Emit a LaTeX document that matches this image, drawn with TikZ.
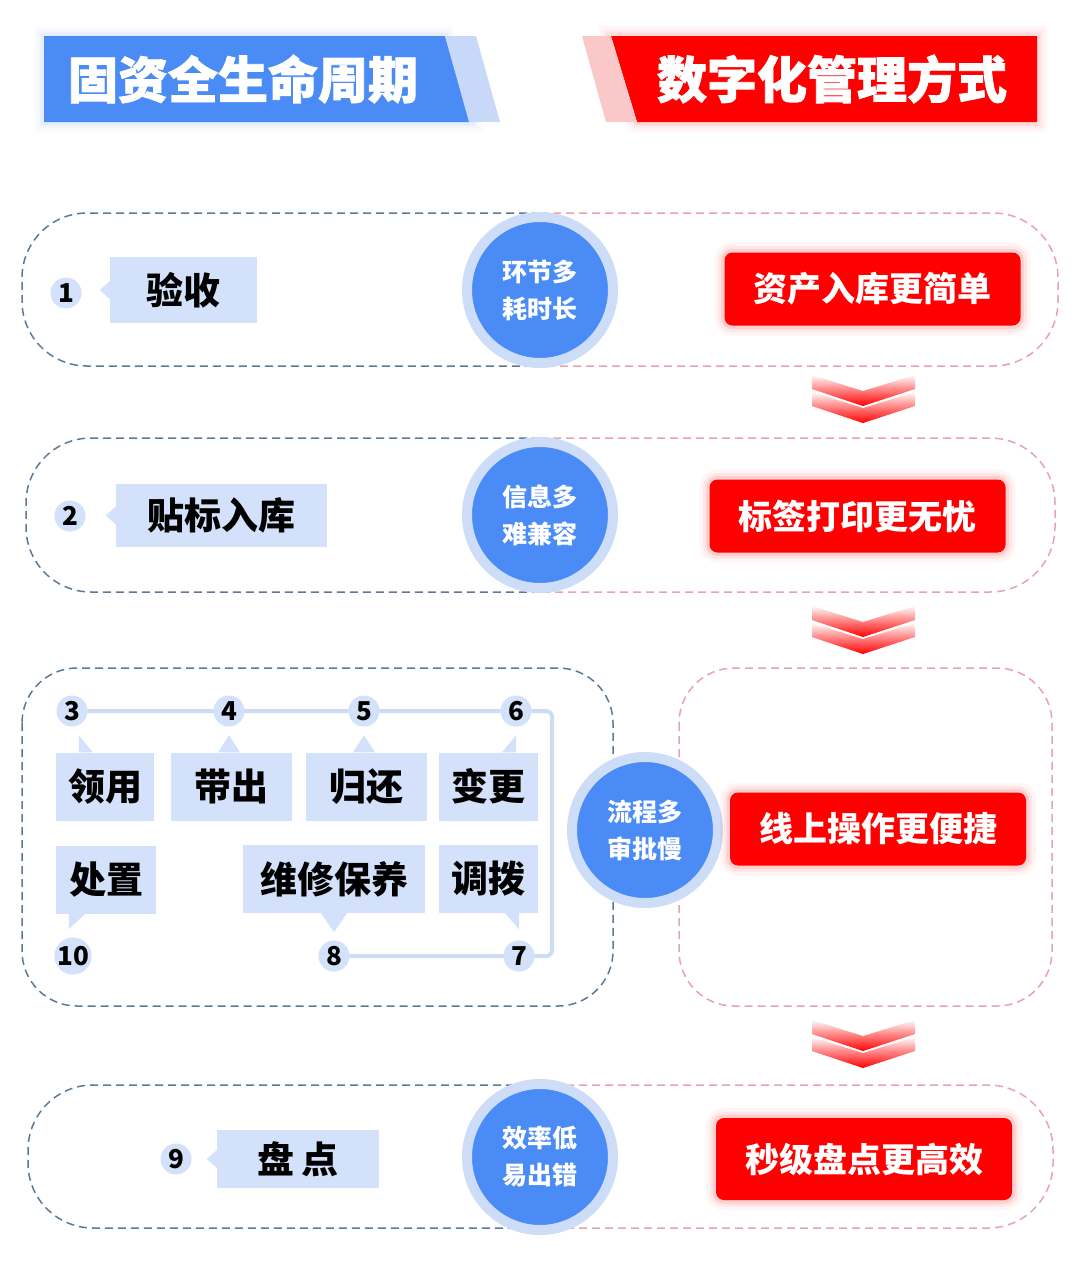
\documentclass[tikz,border=0pt]{standalone}
\usepackage{fontspec}
\setmainfont{Noto Sans CJK SC}
\newfontfamily\heavyfont{Noto Sans CJK SC}[BoldFeatures={FakeBold=1.6}]
\usepackage{tikz}
\usetikzlibrary{arrows.meta, positioning, calc, backgrounds}

\definecolor{headblue}{RGB}{74,139,245}
\definecolor{paleblue}{RGB}{199,216,248}
\definecolor{tagblue}{RGB}{211,226,250}
\definecolor{ringblue}{RGB}{205,221,247}
\definecolor{dashblue}{RGB}{92,122,152}
\definecolor{dashpink}{RGB}{232,163,172}
\definecolor{palepink}{RGB}{250,200,200}
\definecolor{trackblue}{RGB}{204,220,245}
\newcommand{\fs}[1]{\fontsize{#1}{#1}\selectfont}

\tikzset{
  phase/.style={line width=1.5pt, dash pattern=on 8pt off 5pt},
  glow/.style={preaction={draw=#1, line width=20pt, opacity=0.04},
      preaction={draw=#1, line width=13pt, opacity=0.06},
      preaction={draw=#1, line width=7pt, opacity=0.10}},
  hot/.style={fill=red, rounded corners=8pt, text=white, inner sep=0pt,
      minimum width=296pt, minimum height=73pt, font=\bfseries\fs{34}, glow=red},
  pain/.style={circle, fill=headblue, draw=ringblue, line width=10pt,
      minimum size=146pt, inner sep=0pt, text=white, align=center,
      font=\bfseries\fontsize{25}{37}\selectfont},
  numdot/.style={circle, fill=tagblue, minimum size=31pt, inner sep=0pt,
      font=\bfseries\fs{26}},
  tag/.style={fill=tagblue, inner sep=0pt, minimum height=68pt,
      font=\bfseries\fs{37}},
  track/.style={draw=trackblue, line width=4pt, rounded corners=6pt}
}

\begin{document}
\begin{tikzpicture}[x=1pt, y=-1pt]
  \useasboundingbox (0,0) rectangle (1080,1262);
  \begin{scope}[on background layer]
    \fill[white] (0,0) rectangle (1080,1262);
  \end{scope}

  % headers
  \fill[headblue, glow=headblue!70] (44,36) -- (445,36) -- (470,122) -- (44,122) -- cycle;
  \fill[paleblue] (445,36) -- (476,36) -- (500,122) -- (469,122) -- cycle;
  \node[text=white, font=\heavyfont\bfseries\fs{50}] (lifecycle) at (243,79) {固资全生命周期};
  \fill[red, glow=red!70] (611,36) -- (1037,36) -- (1037,122) -- (637,122) -- cycle;
  \fill[palepink] (582,36) -- (611,36) -- (637,122) -- (606,122) -- cycle;
  \node[text=white, font=\heavyfont\bfseries\fs{50}] (digital) at (832,79) {数字化管理方式};

  % dashed frames
  \draw[phase, dashblue, rounded corners=65pt] (540,213) -- (22,213) -- (22,366) -- (540,366);
  \draw[phase, dashpink, rounded corners=65pt] (540,213) -- (1058,213) -- (1058,366) -- (540,366);
  \draw[phase, dashblue, rounded corners=65pt] (540,438) -- (26,438) -- (26,592) -- (540,592);
  \draw[phase, dashpink, rounded corners=65pt] (540,438) -- (1055,438) -- (1055,592) -- (540,592);
  \draw[phase, dashblue, rounded corners=55pt] (22,668) rectangle (613,1006);
  \draw[phase, dashpink, rounded corners=55pt] (679,668) rectangle (1052,1006);
  \draw[phase, dashblue, rounded corners=65pt] (540,1085) -- (28,1085) -- (28,1228) -- (540,1228);
  \draw[phase, dashpink, rounded corners=65pt] (540,1085) -- (1053,1085) -- (1053,1228) -- (540,1228);

  % chevrons
  \foreach \cy in {375,606,1020} {
    \foreach \dy in {0,17} {
      \shade[top color=red!2, bottom color=red]
        (812,\cy+\dy) -- (863,\cy+\dy+16) -- (915,\cy+\dy) -- (915,\cy+\dy+14)
        -- (863,\cy+\dy+31) -- (812,\cy+\dy+14) -- cycle;
    }
  }

  % row 1
  \node[numdot] (n1) at (66,293) {1};
  \node[tag, minimum width=147pt, minimum height=66pt] (lab1) at (183.5,290) {验收};
  \fill[tagblue] (lab1.west) ++(0,-9) -- ++(-10,9) -- ++(10,9) -- cycle;
  \node[pain] (c1) at (540,290) {环节多\\耗时长};
  \node[hot] (win1) at (872.5,289) {资产入库更简单};

  % row 2
  \node[numdot] (n2) at (70,516) {2};
  \node[tag, minimum width=211pt, minimum height=63pt] (lab2) at (221.5,515.5) {贴标入库};
  \fill[tagblue] (lab2.west) ++(0,-9) -- ++(-10,9) -- ++(10,9) -- cycle;
  \node[pain] (c2) at (540,515) {信息多\\难兼容};
  \node[hot] (win2) at (857.5,516) {标签打印更无忧};

  % row 3: numbered steps
  \node[numdot] (n3) at (72,711) {3};
  \node[numdot] (n4) at (229,711) {4};
  \node[numdot] (n5) at (364,711) {5};
  \node[numdot] (n6) at (516,711) {6};
  \node[numdot] (n7) at (519,956) {7};
  \node[numdot] (n8) at (334,956) {8};
  \node[numdot] (n10) at (73,956) {10};
  \begin{scope}[on background layer]
    \draw[track] (n3.center) -- (n6.center) -- ++(36,0) |- (n8.center);
  \end{scope}

  \node[tag, minimum width=98pt] (t3) at (105,786.5) {领用};
  \node[tag, minimum width=121pt] (t4) at (231,786.5) {带出};
  \node[tag, minimum width=121pt] (t5) at (366.5,786.5) {归还};
  \node[tag, minimum width=99pt] (t6) at (488.5,786.5) {变更};
  \node[tag, minimum width=100pt] (t10) at (106,880) {处置};
  \node[tag, minimum width=182pt] (t8) at (334,879) {维修保养};
  \node[tag, minimum width=99pt] (t7) at (488.5,879) {调拨};
  \fill[tagblue] (t3.north west) ++(23,0) -- ++(0,-17) -- ++(14,17) -- cycle;
  \fill[tagblue] (n4 |- t4.north) ++(-11,0) -- ++(11,-17) -- ++(11,17) -- cycle;
  \fill[tagblue] (n5 |- t5.north) ++(-11,0) -- ++(11,-17) -- ++(11,17) -- cycle;
  \fill[tagblue] (n6 |- t6.north) -- ++(0,-17) -- ++(-14,17) -- cycle;
  \fill[tagblue] (t10.south west) ++(13,0) -- ++(0,15) -- ++(16,-15) -- cycle;
  \fill[tagblue] (n8 |- t8.south) ++(-13,0) -- ++(13,19) -- ++(13,-19) -- cycle;
  \fill[tagblue] (n7 |- t7.south) -- ++(0,16) -- ++(-14,-16) -- cycle;

  \node[pain] (c3) at (645,830) {流程多\\审批慢};
  \node[hot] (win3) at (878,829) {线上操作更便捷};

  % row 4
  \node[numdot] (n9) at (176,1159) {9};
  \node[tag, minimum width=162pt, minimum height=58pt] (lab9) at (298,1159) {盘\,点};
  \fill[tagblue] (lab9.west) ++(0,-9) -- ++(-10,9) -- ++(10,9) -- cycle;
  \node[pain] (c4) at (540,1157) {效率低\\易出错};
  \node[hot, minimum height=82pt] (win4) at (864,1159) {秒级盘点更高效};
\end{tikzpicture}
\end{document}
